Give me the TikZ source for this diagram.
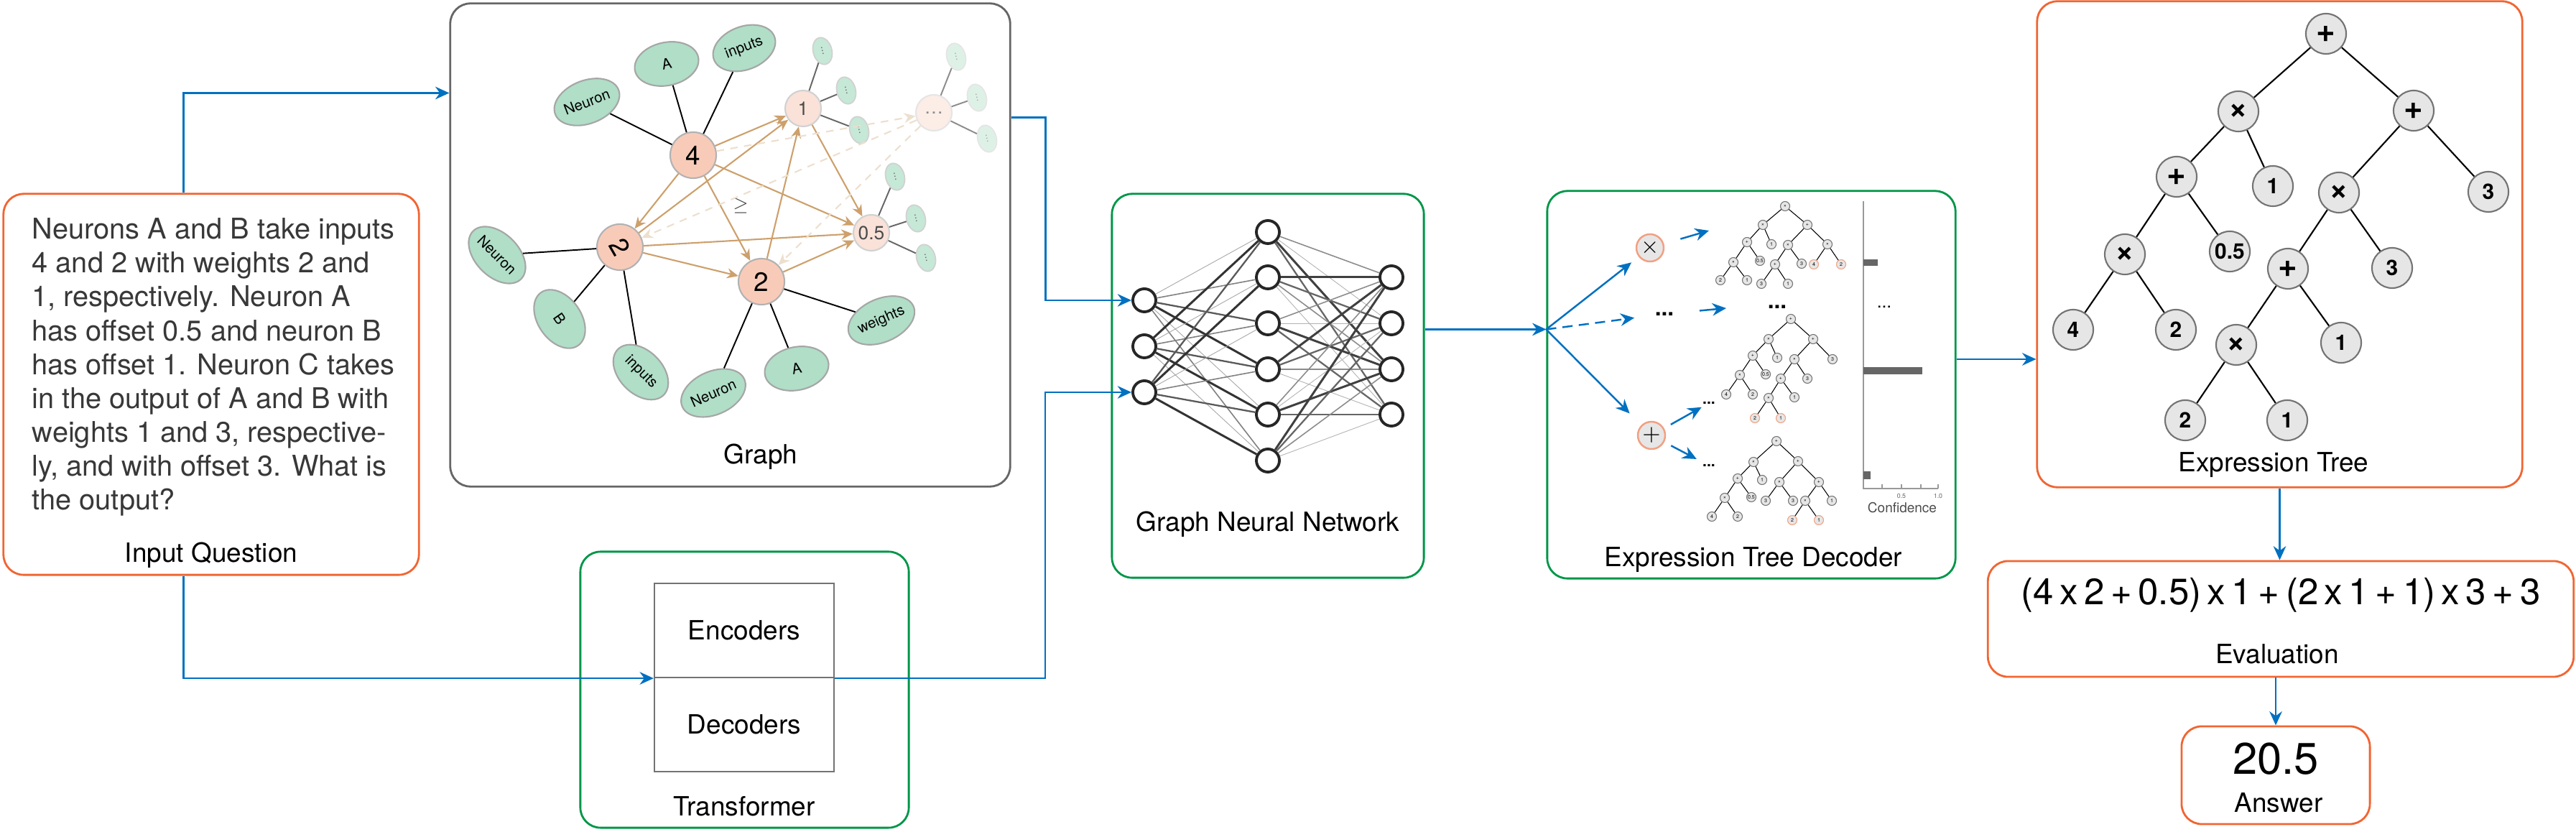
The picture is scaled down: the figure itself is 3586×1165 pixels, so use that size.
\documentclass[tikz,border=0pt]{standalone}
\usepackage{fontspec}
\setmainfont{TeX Gyre Heros}
\usepackage{amsmath}
\usepackage{amssymb}
\usepackage{tikz}
\usetikzlibrary{arrows.meta}
\usetikzlibrary{shapes.geometric}

\definecolor{qorange}{RGB}{241,101,50}
\definecolor{qgreen}{RGB}{0,150,72}
\definecolor{qblue}{RGB}{0,112,192}
\definecolor{hubfill}{RGB}{248,203,185}
\definecolor{hublight}{RGB}{250,226,217}
\definecolor{hubfaint}{RGB}{252,237,231}
\definecolor{leaffill}{RGB}{176,222,199}
\definecolor{leaflight}{RGB}{198,232,215}
\definecolor{leaffaint}{RGB}{222,241,231}
\definecolor{arrtan}{RGB}{205,160,108}
\definecolor{paletan}{RGB}{237,223,206}
\definecolor{opfill}{RGB}{230,230,230}
\definecolor{oprim}{RGB}{241,160,130}

\begin{document}
\begin{tikzpicture}[
  x=0.01cm, y=-0.01cm,
  box/.style={draw, rounded corners=8pt, line width=0.8pt, inner sep=0pt},
  flow/.style={draw=qblue, line width=0.7pt, -{Stealth[length=5.5pt,width=5pt]}},
  lbl/.style={inner sep=0pt, font=\fontsize{10.5}{12}\selectfont},
  hub/.style={
    circle, draw=black!30, line width=0.6pt, fill=hubfill,
    inner sep=0pt, minimum size=0.64cm, font=\fontsize{10.5}{10}\selectfont
  },
  hubl/.style={
    hub, draw=black!18, fill=hublight, minimum size=0.5cm,
    text=black!70, font=\fontsize{7.5}{8}\selectfont
  },
  leaf/.style={
    ellipse, draw=black!35, line width=0.6pt, fill=leaffill,
    inner sep=0pt, minimum width=0.9cm, minimum height=0.6cm,
    font=\fontsize{5.8}{6}\selectfont
  },
  sleaf/.style={
    ellipse, draw=black!18, line width=0.5pt, fill=leaflight,
    inner sep=0pt, minimum width=0.38cm, minimum height=0.26cm,
    text=black!60, font=\fontsize{4}{4}\selectfont, rotate=105
  },
  gedge/.style={line width=0.55pt},
  dep/.style={draw=arrtan, line width=0.6pt, -{Stealth[length=4.5pt,width=4pt]}},
  ghost/.style={
    draw=paletan, line width=0.6pt, dash pattern=on 3pt off 2.5pt,
    -{Stealth[length=4.5pt,width=4pt]}
  },
  neuron/.style={
    circle, draw=black!85, line width=1.1pt, fill=white,
    minimum size=0.32cm, inner sep=0pt
  },
  tnode/.style={
    circle, draw=black!55, line width=0.6pt, fill=opfill, inner sep=0pt,
    minimum size=0.56cm, font=\fontsize{8.5}{9}\selectfont\bfseries
  },
  tedge/.style={line width=0.6pt},
  mini/.style={
    circle, draw=black!55, line width=0.3pt, fill=opfill,
    inner sep=0pt, minimum size=0.13cm, font=\fontsize{2}{2}\selectfont
  },
  minired/.style={mini, draw=oprim},
  medge/.style={line width=0.3pt},
  opnode/.style={
    circle, draw=oprim, line width=0.7pt, fill=opfill,
    inner sep=0pt, minimum size=0.38cm, font=\fontsize{9}{9}\selectfont
  },
  ellip/.style={inner sep=1pt, font=\fontsize{9}{9}\selectfont\bfseries}
]
  \useasboundingbox (0,0) rectangle (3586,1165);

  \node[box, draw=qorange, minimum width=5.78cm, minimum height=5.30cm] (iq) at (294,535) {};
  \node[box, draw=black!60, minimum width=7.79cm, minimum height=6.72cm] (graphbox) at (1016.5,341) {};
  \node[box, draw=qgreen, minimum width=4.57cm, minimum height=3.84cm] (trans) at (1036.5,960) {};
  \node[box, draw=qgreen, minimum width=4.34cm, minimum height=5.34cm] (gnn) at (1765,537) {};
  \node[box, draw=qgreen, minimum width=5.68cm, minimum height=5.39cm] (dec) at (2438,535.5) {};
  \node[box, draw=qorange, minimum width=6.75cm, minimum height=6.76cm] (etbox) at (3173.5,340) {};
  \node[box, draw=qorange, minimum width=8.15cm, minimum height=1.61cm] (evalbox) at (3175,861.5) {};
  \node[box, draw=qorange, minimum width=2.62cm, minimum height=1.36cm] (ansbox) at (3168,1079) {};

  \node[anchor=west, align=left, inner sep=0pt, text=black!78,
    font=\fontsize{11.3}{13.4}\selectfont] (iqtext) at (44,511)
    {Neurons A and B take inputs\\4 and 2 with weights 2 and\\1, respectively. Neuron A\\
     has offset 0.5 and neuron B\\has offset 1. Neuron C takes\\in the output of A and B with\\
     weights 1 and 3, respective-\\ly, and with offset 3. What is\\the output?};
  \node[lbl] (iqlbl) at (294,773) {Input Question};
  \node[lbl] (graphlbl) at (1059,636) {Graph};
  \node[lbl] (translbl) at (1036,1122) {Transformer};
  \node[lbl] (gnnlbl) at (1765,730) {Graph Neural Network};
  \node[lbl] (declbl) at (2441,779) {Expression Tree Decoder};
  \node[lbl] (etlbl) at (3165,647) {Expression Tree};
  \node[lbl, font=\fontsize{14.5}{16}\selectfont] (expr) at (3175,828)
    {(4\,x\,2\,+\,0.5)\,x\,1\,+\,(2\,x\,1\,+\,1)\,x\,3\,+\,3};
  \node[lbl] (evallbl) at (3170,910) {Evaluation};
  \node[lbl, font=\fontsize{17.5}{18}\selectfont] (answer) at (3168,1056) {20.5};
  \node[lbl] (anslbl) at (3172,1117) {Answer};

  \node[lbl, draw=black!55, line width=0.6pt, minimum width=2.5cm, minimum height=1.31cm]
    (encoders) at (1036,877.5) {Encoders};
  \node[lbl, draw=black!55, line width=0.6pt, minimum width=2.5cm, minimum height=1.31cm]
    (decoders) at (1036,1008.5) {Decoders};

  \node[hub] (g4) at (965,216) {4};
  \node[hub, rotate=-60] (g2a) at (863,344) {2};
  \node[hub] (g2b) at (1060,392) {2};
  \node[hubl] (g1) at (1118,151) {1};
  \node[hubl] (g05) at (1213,324) {0.5};
  \node[hubl, fill=hubfaint, draw=black!10, text=black!45] (gdots) at (1300,157) {\dots};
  \foreach \n/\x/\y/\r/\t in {
    e1/817/142/21/Neuron, e2/928/89/12/A, e3/1036/67/21/inputs,
    e4/692/355/-45/Neuron, e5/779/444/-55/B, e6/892/518/-45/inputs,
    e7/993/547/24/Neuron, e8/1109/513/12/A, e9/1227/446/24/weights}
    \node[leaf, rotate=\r] (\n) at (\x,\y) {\t};
  \foreach \n/\x/\y in {s1/1145/71, s2/1178/126, s3/1196/181,
    s7/1246/246, s8/1275/304, s9/1289/359}
    \node[sleaf] (\n) at (\x,\y) {...};
  \foreach \n/\x/\y in {s4/1331/79, s5/1360/136, s6/1374/193}
    \node[sleaf, fill=leaffaint, draw=black!10, text=black!35] (\n) at (\x,\y) {...};
  \node[text=black!70, inner sep=0pt, font=\fontsize{7}{7}\selectfont] (geq) at (1031,286) {$\geq$};

  \foreach \u/\v in {g4/e1, g4/e2, g4/e3, g2a/e4, g2a/e5, g2a/e6, g2b/e7, g2b/e8, g2b/e9}
    \draw[gedge] (\u) -- (\v);
  \foreach \u/\v in {g1/s1, g1/s2, g1/s3, g05/s7, g05/s8, g05/s9}
    \draw[gedge, draw=black!60] (\u) -- (\v);
  \foreach \u/\v in {gdots/s4, gdots/s5, gdots/s6}
    \draw[gedge, draw=black!45] (\u) -- (\v);
  \foreach \u/\v in {g4/g1, g4/g2a, g4/g2b, g4/g05, g2a/g1, g2a/g05,
    g2a/g2b, g2b/g1, g2b/g05, g1/g05}
    \draw[dep] (\u) -- (\v);
  \foreach \u/\v in {g4/gdots, gdots/g2a, gdots/g2b}
    \draw[ghost] (\u) -- (\v);

  \foreach \k/\y in {1/418,2/482,3/546}
    \node[neuron] (i\k) at (1593,\y) {};
  \foreach \k/\y in {1/323,2/386,3/450,4/514,5/577,6/641}
    \node[neuron] (h\k) at (1765,\y) {};
  \foreach \k/\y in {1/386,2/450,3/514,4/577}
    \node[neuron] (o\k) at (1937,\y) {};
  \foreach \i in {1,2,3}
    \foreach \j in {1,...,6} {
      \pgfmathtruncatemacro\w{mod(3*\i+5*\j,4)}
      \pgfmathtruncatemacro\sh{35+15*\w}
      \pgfmathsetmacro\lw{0.25+0.2*\w}
      \draw[draw=black!\sh, line width=\lw pt] (i\i) -- (h\j);
    }
  \foreach \i in {1,...,6}
    \foreach \j in {1,...,4} {
      \pgfmathtruncatemacro\w{mod(2*\i+3*\j,4)}
      \pgfmathtruncatemacro\sh{30+15*\w}
      \pgfmathsetmacro\lw{0.25+0.2*\w}
      \draw[draw=black!\sh, line width=\lw pt] (h\i) -- (o\j);
    }

  \node[opnode] (xop) at (2297,345) {$\times$};
  \node[opnode] (plusop) at (2299,606) {$+$};
  \node[ellip] (dotsA) at (2317,437) {...};
  \node[ellip] (dotsB) at (2474,427) {...};
  \node[ellip, font=\fontsize{6}{6}\selectfont\bfseries] (dotsC) at (2379,561) {...};
  \node[ellip, font=\fontsize{6}{6}\selectfont\bfseries] (dotsD) at (2379,648) {...};
  \node[ellip, font=\fontsize{7}{7}\selectfont] (dotsE) at (2623,427) {...};
  \coordinate (t1in) at (2379,321);
  \coordinate (t2in) at (2403,429);

  \foreach \n/\x/\y/\t/\s in {
    p1r/2485/287/×/mini, p1a/2454/313/×/mini, p1b/2516/313/+/mini,
    p1c/2432/337/+/mini, p1d/2466/340/1/mini, p1e/2489/341/×/mini,
    p1f/2544/340/×/mini, p1g/2413/365/×/mini, p1h/2450/363/0.5/mini,
    p1k/2471/368/+/mini, p1l/2508/367/3/mini, p1m/2525/368/4/minired,
    p1n/2563/368/2/minired, p1o/2395/390/2/mini, p1p/2432/390/1/mini,
    p1q/2452/395/3/mini, p1s/2489/395/1/mini,
    p2r/2493/444/+/mini, p2a/2462/472/×/mini, p2b/2524/472/+/mini,
    p2c/2440/495/+/mini, p2d/2474/498/1/mini, p2e/2498/500/×/mini,
    p2f/2551/500/3/mini, p2g/2422/522/×/mini, p2h/2458/521/0.5/mini,
    p2k/2479/527/+/mini, p2l/2516/527/3/mini, p2m/2403/549/4/mini,
    p2n/2440/549/2/mini, p2o/2462/554/×/mini, p2p/2498/553/1/mini,
    p2q/2443/582/2/minired, p2s/2479/582/1/minired,
    p3r/2473/614/+/mini, p3a/2441/643/×/mini, p3b/2503/642/+/mini,
    p3c/2419/666/+/mini, p3d/2453/668/1/mini, p3e/2477/671/×/mini,
    p3f/2532/671/+/mini, p3g/2401/693/×/mini, p3h/2438/692/0.5/mini,
    p3k/2458/697/3/mini, p3l/2496/697/3/mini, p3o/2513/697/×/mini,
    p3p/2550/697/1/mini, p3m/2383/719/4/mini, p3n/2419/719/2/mini,
    p3q/2495/724/2/minired, p3s/2532/724/1/minired}
    \node[\s] (\n) at (\x,\y) {\t};
  \foreach \u/\v in {
    p1r/p1a, p1r/p1b, p1a/p1c, p1a/p1d, p1c/p1g, p1c/p1h, p1g/p1o, p1g/p1p,
    p1b/p1e, p1b/p1f, p1e/p1k, p1e/p1l, p1k/p1q, p1k/p1s, p1f/p1m, p1f/p1n,
    p2r/p2a, p2r/p2b, p2a/p2c, p2a/p2d, p2c/p2g, p2c/p2h, p2g/p2m, p2g/p2n,
    p2b/p2e, p2b/p2f, p2e/p2k, p2e/p2l, p2k/p2o, p2k/p2p, p2o/p2q, p2o/p2s,
    p3r/p3a, p3r/p3b, p3a/p3c, p3a/p3d, p3c/p3g, p3c/p3h, p3g/p3m, p3g/p3n,
    p3b/p3e, p3b/p3f, p3e/p3k, p3e/p3l, p3f/p3o, p3f/p3p, p3o/p3q, p3o/p3s}
    \draw[medge] (\u) -- (\v);

  \draw[draw=black!40, line width=0.8pt] (2594,280) -- (2594,680) -- (2698,680);
  \foreach \x in {2620,2647,2674,2698}
    \draw[draw=black!40, line width=0.3pt] (\x,680) -- (\x,674);
  \fill[black!60] (2594,361) rectangle (2614,370);
  \fill[black!60] (2594,511) rectangle (2676,521);
  \fill[black!60] (2594,656) rectangle (2604,667);
  \node[inner sep=0pt, text=black!60, font=\fontsize{2.5}{3}\selectfont] (tick05) at (2647,690) {0.5};
  \node[inner sep=0pt, text=black!60, font=\fontsize{2.5}{3}\selectfont] (tick10) at (2698,690) {1.0};
  \node[inner sep=0pt, text=black!70, font=\fontsize{5.4}{6}\selectfont] (conf) at (2648,707) {Confidence};

  \foreach \n/\x/\y/\t in {
    r/3238/47/{\fontsize{13}{13}\selectfont +}, a/3116/155/{\fontsize{13}{13}\selectfont ×},
    b/3360/154/{\fontsize{13}{13}\selectfont +}, c/3030/246/{\fontsize{13}{13}\selectfont +},
    d/3164/259/1, e/3256/268/{\fontsize{13}{13}\selectfont ×},
    f/3464/267/3, g/2958/354/{\fontsize{13}{13}\selectfont ×}, h/3104/350/0.5,
    k/3185/374/{\fontsize{13}{13}\selectfont +}, l/3330/373/3, m/2886/459/4, n/3029/459/2,
    o/3113/480/{\fontsize{13}{13}\selectfont ×}, p/3259/477/1, q/3042/585/2, s/3184/585/1}
    \node[tnode] (t\n) at (\x,\y) {\t};
  \foreach \u/\v in {r/a, r/b, a/c, a/d, c/g, c/h, g/m, g/n,
    b/e, b/f, e/k, e/l, k/o, k/p, o/q, o/s}
    \draw[tedge] (t\u) -- (t\v);

  \draw[flow] ([xshift=2.52cm]iq.north west) |- ([yshift=-1.26cm]graphbox.north west);
  \draw[flow] ([xshift=2.52cm]iq.south west) |- (encoders.south west);
  \draw[flow] ([yshift=-1.6cm]graphbox.north east) -- ++(48,0) |- (i1);
  \draw[flow] (encoders.south east) -- ++(293,0) |- (i3);
  \coordinate (split) at ([yshift=0.77cm]dec.west);
  \draw[flow] (gnn.east |- split) -- (split);
  \draw[flow, shorten >=3.6pt] (split) -- (xop);
  \draw[flow, dash pattern=on 4pt off 2.5pt, shorten >=7pt] (split) -- (dotsA);
  \draw[flow, shorten >=6.5pt] (split) -- (plusop);
  \draw[flow, shorten <=6.8pt] (xop) -- (t1in);
  \draw[flow, shorten <=9pt] (dotsA) -- (t2in);
  \draw[flow, shorten <=3pt] (plusop) -- (dotsC);
  \draw[flow, shorten <=3pt, shorten >=2pt] (plusop) -- (dotsD);
  \coordinate (decout) at ([yshift=0.355cm]dec.east);
  \draw[flow] (decout) -- (decout -| etbox.west);
  \draw[flow] (etbox.south) -- (etbox.south |- evalbox.north);
  \draw[flow] (evalbox.south -| ansbox.north) -- (ansbox.north);
\end{tikzpicture}
\end{document}
